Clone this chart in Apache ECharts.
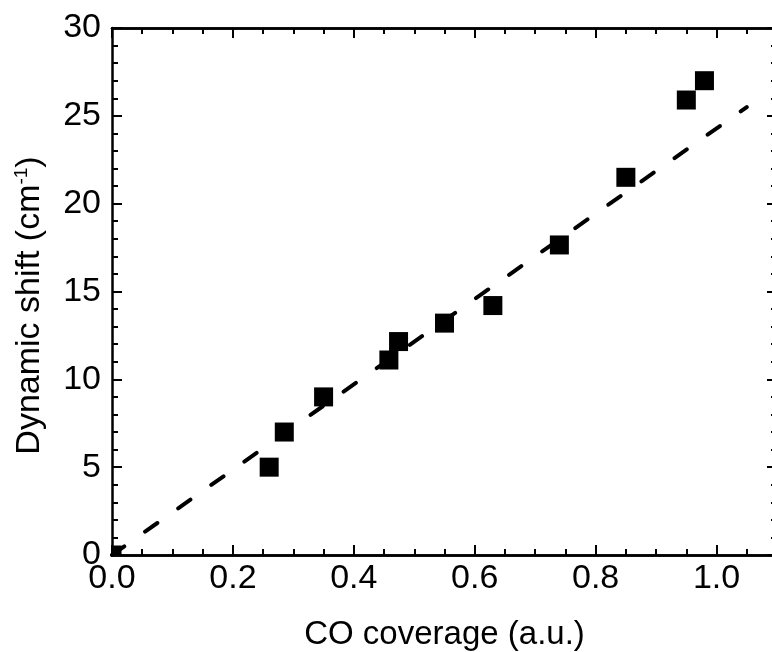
<!DOCTYPE html>
<html>
<head>
<meta charset="utf-8">
<script src="https://cdn.jsdelivr.net/npm/echarts@6/dist/echarts.min.js"></script>
<style>
  html, body { margin: 0; padding: 0; background: #fff; }
  #chart { width: 772px; height: 652px; }
</style>
</head>
<body>
<div id="chart"></div>
<script>
// Measured CO coverage vs. dynamic shift
const coverage = [0, 0.26, 0.285, 0.35, 0.458, 0.474, 0.55, 0.63, 0.74, 0.85, 0.95, 0.98];
const shift    = [0, 5.0, 7.0, 9.0, 11.1, 12.15, 13.2, 14.2, 17.65, 21.5, 25.9, 27.0];

// Linear fit, end points
const fitCoverage = [0, 1.05];
const fitShift    = [0, 25.5];

// Axis ranges and tick steps
const xRange = [0, 1.1];
const yRange = [0, 30];
const xMajor = 0.2, xMinor = 0.05;
const yMajor = 5,   yMinorSplit = 5;

const FONT = '"Liberation Sans", Arial, Helvetica, sans-serif';
const BLACK = '#000';
const MARKER = 19;

function xAxisDef(position, interval, tickLen, withLabels) {
  const ax = {
    type: 'value',
    position: position,
    min: xRange[0], max: xRange[1], interval: interval,
    axisLine: { show: true, onZero: false, lineStyle: { color: BLACK, width: 2.5 } },
    axisTick: { show: true, inside: true, length: tickLen, lineStyle: { color: BLACK, width: 2 } },
    axisLabel: { show: false },
    splitLine: { show: false }
  };
  if (withLabels) {
    ax.axisLabel = {
      show: true, color: BLACK, fontFamily: FONT, fontSize: 34, margin: 7,
      showMaxLabel: false,
      formatter: v => v.toFixed(1)
    };
    ax.name = 'CO coverage (a.u.)';
    ax.nameLocation = 'middle';
    ax.nameGap = 63;
    ax.nameTextStyle = { color: BLACK, fontFamily: FONT, fontSize: 33 };
  }
  return ax;
}

function yAxisDef(position, withLabels) {
  const ax = {
    type: 'value',
    position: position,
    min: yRange[0], max: yRange[1], interval: yMajor,
    axisLine: { show: true, onZero: false, lineStyle: { color: BLACK, width: 2.5 } },
    axisTick: { show: true, inside: true, length: 10, lineStyle: { color: BLACK, width: 2 } },
    minorTick: { show: true, splitNumber: yMinorSplit, length: 6, lineStyle: { color: BLACK, width: 2 } },
    axisLabel: { show: false },
    splitLine: { show: false }
  };
  if (withLabels) {
    ax.axisLabel = { show: true, color: BLACK, fontFamily: FONT, fontSize: 34, margin: 11 };
    ax.name = '{base|Dynamic shift (cm}{sup|-1}{base|)}';
    ax.nameLocation = 'middle';
    ax.nameGap = 64;
    ax.nameRotate = 90;
    ax.nameTextStyle = {
      color: BLACK, fontFamily: FONT, fontSize: 34,
      padding: [0, 28, 0, 0],
      rich: {
        base: { fontFamily: FONT, fontSize: 34, color: BLACK, lineHeight: 36 },
        sup:  { fontFamily: FONT, fontSize: 19, color: BLACK, verticalAlign: 'top' }
      }
    };
  }
  return ax;
}

// Square markers, clipped to the plotting area
function renderSquare(params, api) {
  const p = api.coord([api.value(0), api.value(1)]);
  const cs = params.coordSys;
  const shape = echarts.graphic.clipRectByRect(
    { x: p[0] - MARKER / 2, y: p[1] - MARKER / 2, width: MARKER, height: MARKER },
    { x: cs.x, y: cs.y, width: cs.width, height: cs.height }
  );
  if (!shape) return null;
  return { type: 'rect', shape: shape, style: { fill: BLACK } };
}

const chart = echarts.init(document.getElementById('chart'), null, { renderer: 'canvas' });

chart.setOption({
  animation: false,
  backgroundColor: '#fff',
  grid: {
    left: 112, top: 28, right: -5, bottom: 97,
    containLabel: false,
    outerBoundsMode: 'none'
  },
  xAxis: [
    xAxisDef('bottom', xMajor, 10, true),
    xAxisDef('bottom', xMinor, 6, false),
    xAxisDef('top', xMajor, 10, false),
    xAxisDef('top', xMinor, 6, false)
  ],
  yAxis: [
    yAxisDef('left', true),
    yAxisDef('right', false)
  ],
  series: [
    {
      type: 'line',
      xAxisIndex: 0, yAxisIndex: 0,
      data: fitCoverage.map((x, i) => [x, fitShift[i]]),
      showSymbol: false,
      symbol: 'none',
      z: 2,
      lineStyle: { color: BLACK, width: 4, type: [15, 25.5], cap: 'round', opacity: 1 }
    },
    {
      type: 'custom',
      xAxisIndex: 0, yAxisIndex: 0,
      data: coverage.map((x, i) => [x, shift[i]]),
      encode: { x: 0, y: 1 },
      renderItem: renderSquare,
      z: 3
    }
  ]
});
</script>
</body>
</html>
